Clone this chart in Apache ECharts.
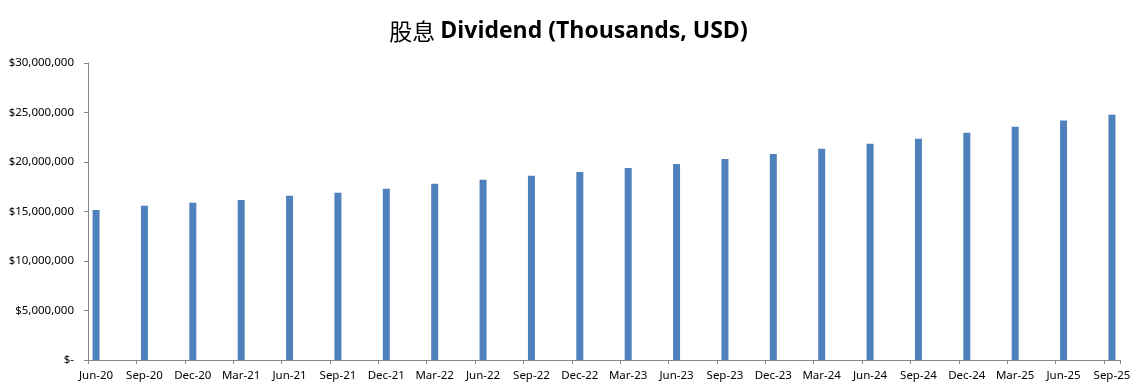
<!DOCTYPE html>
<html>
<head>
<meta charset="utf-8">
<script src="https://cdn.jsdelivr.net/npm/echarts@6/dist/echarts.min.js"></script>
<style>html,body{margin:0;padding:0;background:#fff}#c{width:1137px;height:391px}</style>
</head>
<body>
<div id="c"></div>
<script>
// Quarterly labels (date axis in the original has monthly slots; bars at quarter months)
const quarters = ['Jun-20','Sep-20','Dec-20','Mar-21','Jun-21','Sep-21','Dec-21','Mar-22','Jun-22','Sep-22','Dec-22',
  'Mar-23','Jun-23','Sep-23','Dec-23','Mar-24','Jun-24','Sep-24','Dec-24','Mar-25','Jun-25','Sep-25'];
const dividend = [15150000,15590000,15890000,16160000,16600000,16900000,17300000,17800000,18200000,18600000,19000000,
  19400000,19800000,20300000,20800000,21350000,21850000,22350000,22960000,23570000,24180000,24780000];
const yTicks = { min: 0, max: 30000000, interval: 5000000 };

// Build monthly slots: each quarter month followed by two empty months (except the last)
const monthCats = [];
const monthVals = [];
quarters.forEach((q, i) => {
  monthCats.push(q); monthVals.push(dividend[i]);
  if (i < quarters.length - 1) {
    monthCats.push(q + '+1'); monthVals.push(null);
    monthCats.push(q + '+2'); monthVals.push(null);
  }
});

const chart = echarts.init(document.getElementById('c'));
chart.setOption({
  animation: false,
  backgroundColor: '#fff',
  title: {
    text: '{cn|股息} {en|Dividend (Thousands, USD)}',
    left: 'center',
    top: 15,
    textStyle: {
      rich: {
        cn: { fontFamily: '"Noto Sans CJK SC"', fontSize: 23, fontWeight: 'normal', color: '#000' },
        en: { fontFamily: '"Open Sans"', fontSize: 23, fontWeight: 'bold', color: '#000' }
      }
    }
  },
  grid: { left: 88, right: 17, top: 63, bottom: 31, containLabel: false },
  xAxis: {
    type: 'category',
    data: monthCats,
    boundaryGap: true,
    axisLine: { lineStyle: { color: '#868686', width: 1 } },
    axisTick: { show: true, interval: (idx) => idx % 3 === 0, length: 4, lineStyle: { color: '#868686' } },
    axisLabel: {
      interval: 2, margin: 10, color: '#000', fontSize: 11.5, fontFamily: '"Noto Sans"',
      formatter: v => v
    },
    splitLine: { show: false }
  },
  yAxis: {
    type: 'value',
    min: yTicks.min, max: yTicks.max, interval: yTicks.interval,
    axisLine: { show: true, lineStyle: { color: '#868686', width: 1 } },
    axisTick: { show: true, length: 4, lineStyle: { color: '#868686' } },
    axisLabel: {
      margin: 14, color: '#000', fontSize: 11.5, fontFamily: '"Noto Sans"',
      formatter: v => v === 0 ? '$-' : '$' + v.toLocaleString('en-US')
    },
    splitLine: { show: false }
  },
  series: [{
    type: 'bar',
    data: monthVals,
    barWidth: 7,
    itemStyle: { color: '#4F81BD' }
  }]
});
</script>
</body>
</html>
